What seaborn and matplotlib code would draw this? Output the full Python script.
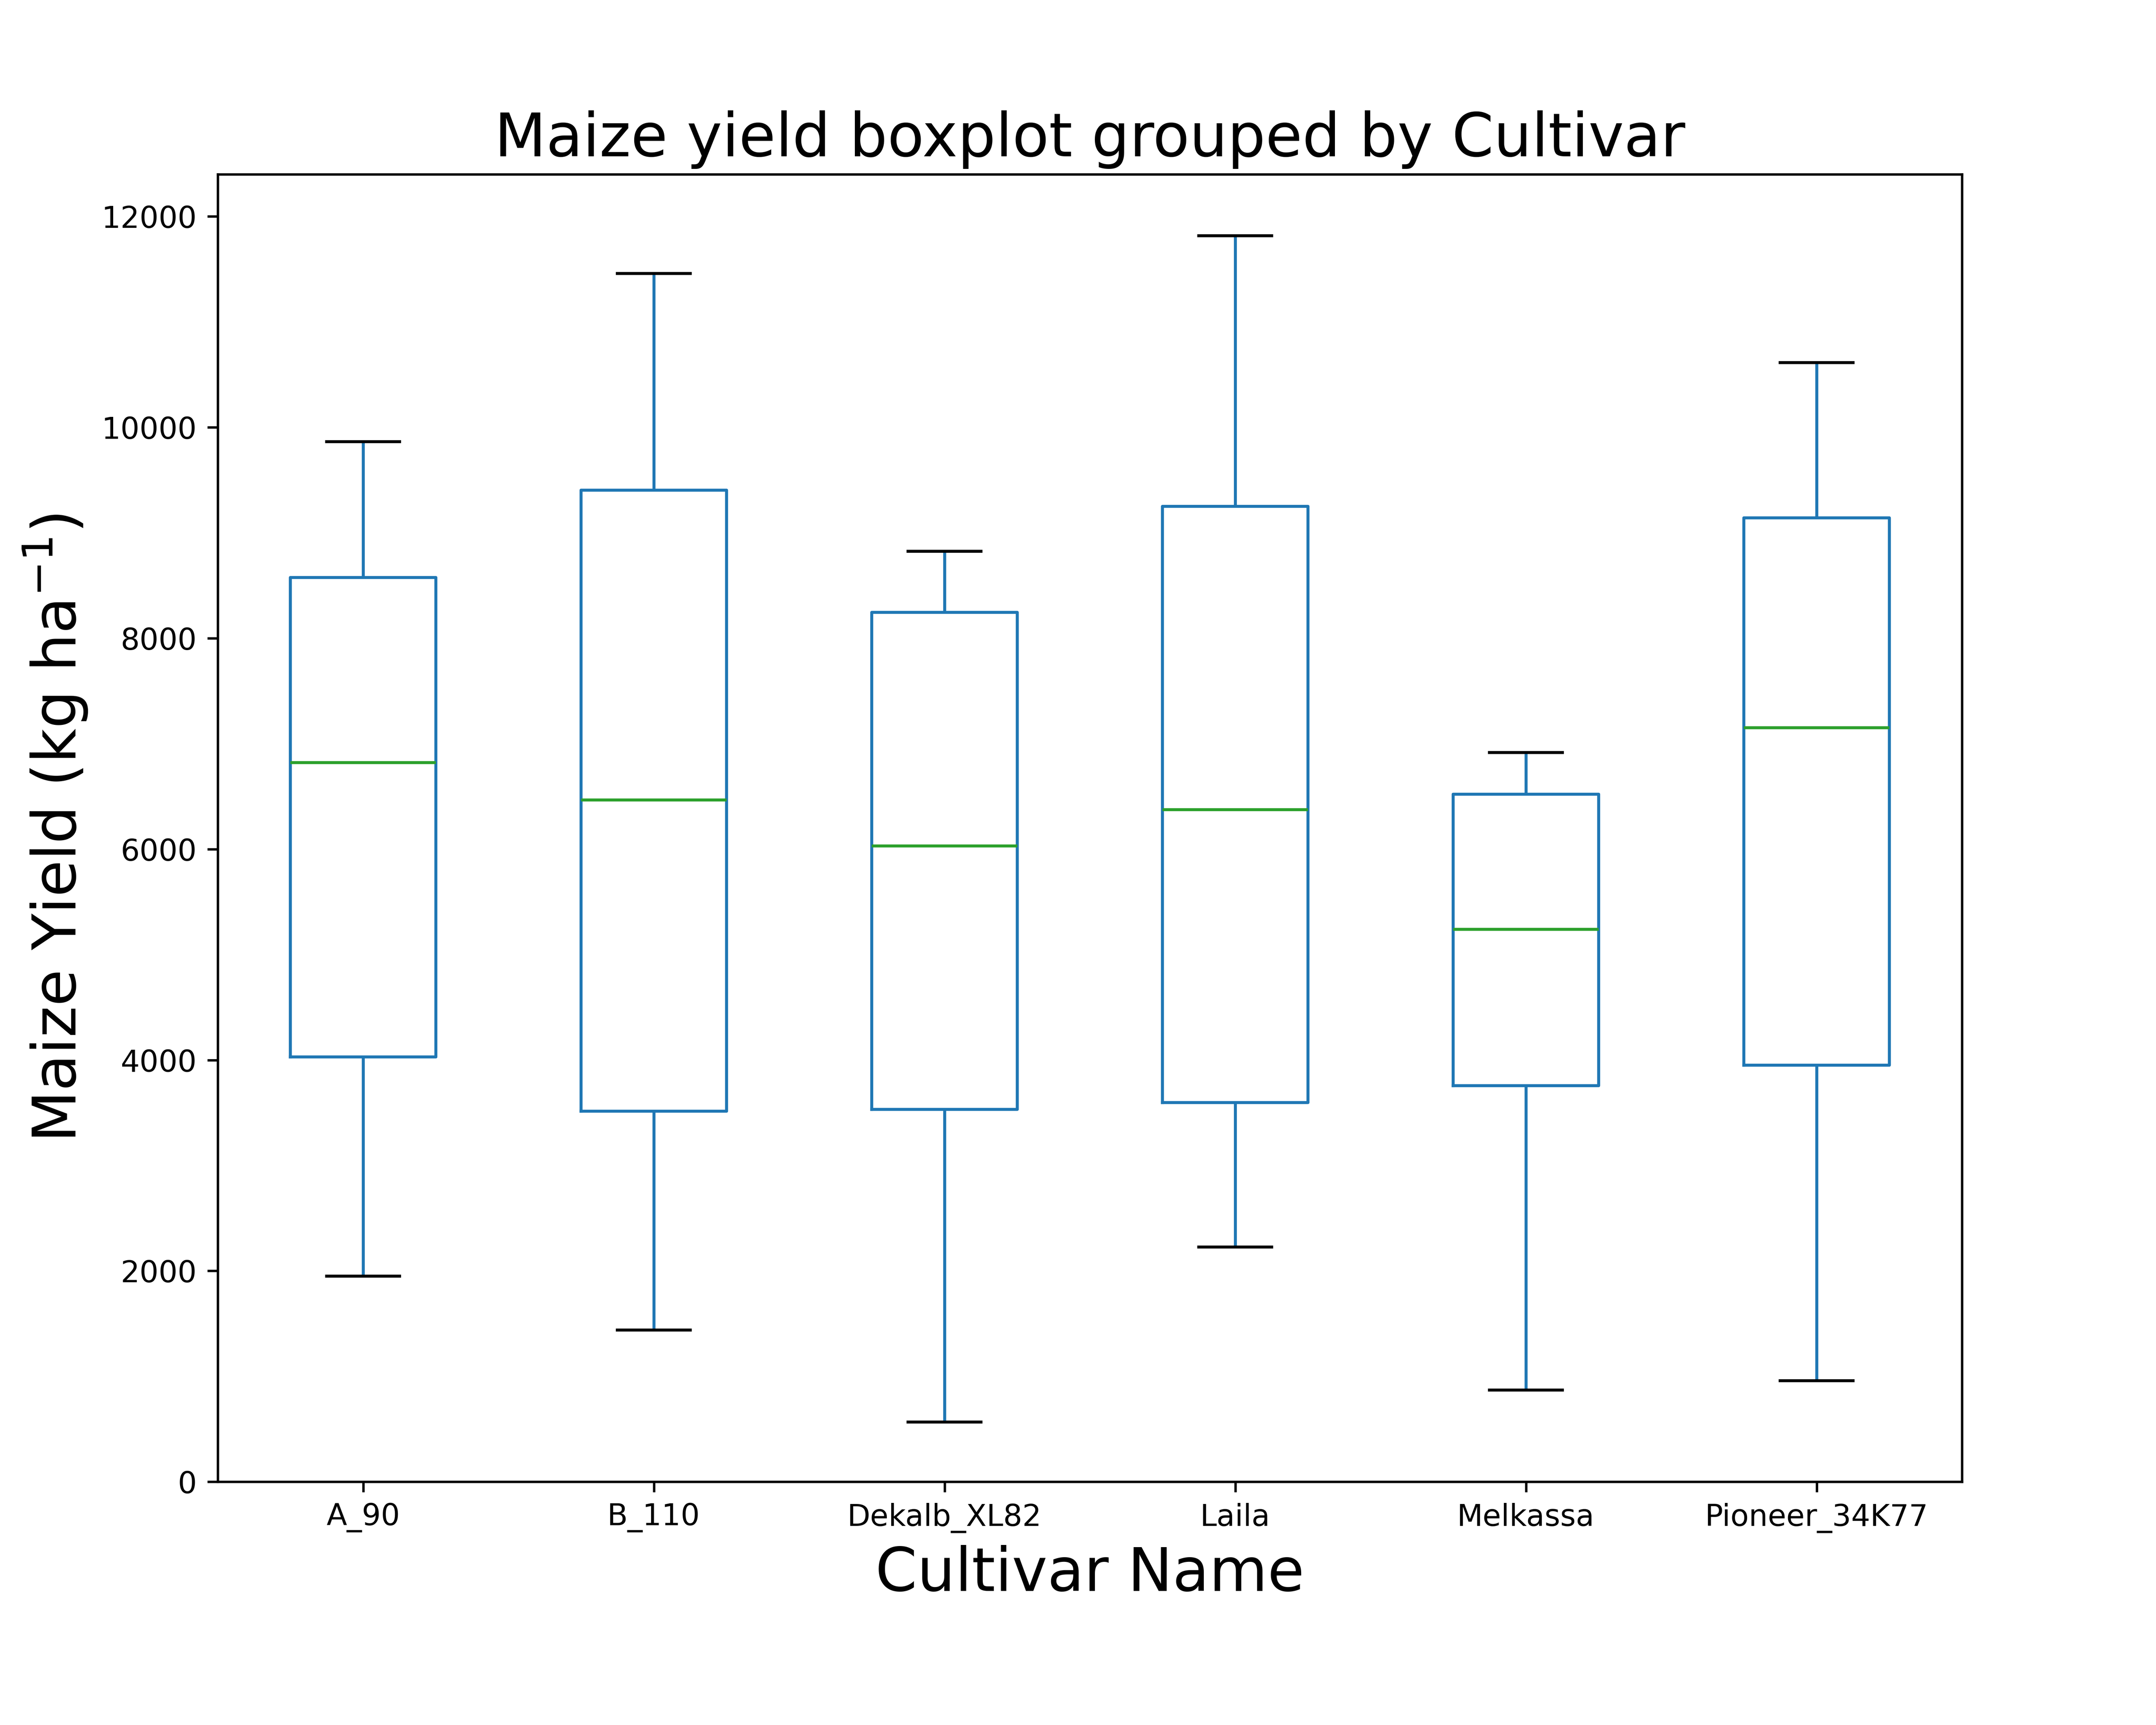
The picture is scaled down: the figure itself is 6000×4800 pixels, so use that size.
import matplotlib
matplotlib.use("Agg")
import matplotlib.pyplot as plt
import seaborn as sns
import pandas as pd

# five-number summaries (min, Q1, median, Q3, max)
cultivars = ["A_90", "B_110", "Dekalb_XL82", "Laila", "Melkassa", "Pioneer_34K77"]
a_90 = [1950, 4030, 6820, 8575, 9865]
b_110 = [1440, 3515, 6465, 9405, 11460]
dekalb_xl82 = [565, 3530, 6030, 8245, 8825]
laila = [2225, 3595, 6375, 9250, 11815]
melkassa = [870, 3755, 5240, 6520, 6915]
pioneer_34k77 = [960, 3950, 7150, 9140, 10615]

yields = [a_90, b_110, dekalb_xl82, laila, melkassa, pioneer_34k77]
df = pd.DataFrame({
    "Cultivar": [c for c, v in zip(cultivars, yields) for _ in v],
    "Yield": [y for v in yields for y in v],
})

fig, ax = plt.subplots(figsize=(10, 8), dpi=600)
fig.subplots_adjust(left=0.101, right=0.91, top=0.899, bottom=0.141)

sns.boxplot(
    data=df, x="Cultivar", y="Yield", order=cultivars,
    color="#1f77b4", fill=False, width=0.5, linewidth=1.0,
    whis=1.5, showfliers=False, ax=ax,
    boxprops=dict(color="#1f77b4"),
    whiskerprops=dict(color="#1f77b4"),
    capprops=dict(color="black"),
    medianprops=dict(color="#2ca02c"),
)

ax.set_xlim(-0.5, len(cultivars) - 0.5)
ax.set_ylim(0, 12400)
ax.set_title("Maize yield boxplot grouped by Cultivar", fontsize=20)
ax.set_xlabel("Cultivar Name", fontsize=20)
ax.set_ylabel(r"Maize Yield (kg ha$^{-1}$)", fontsize=20)

plt.savefig("out.png")
